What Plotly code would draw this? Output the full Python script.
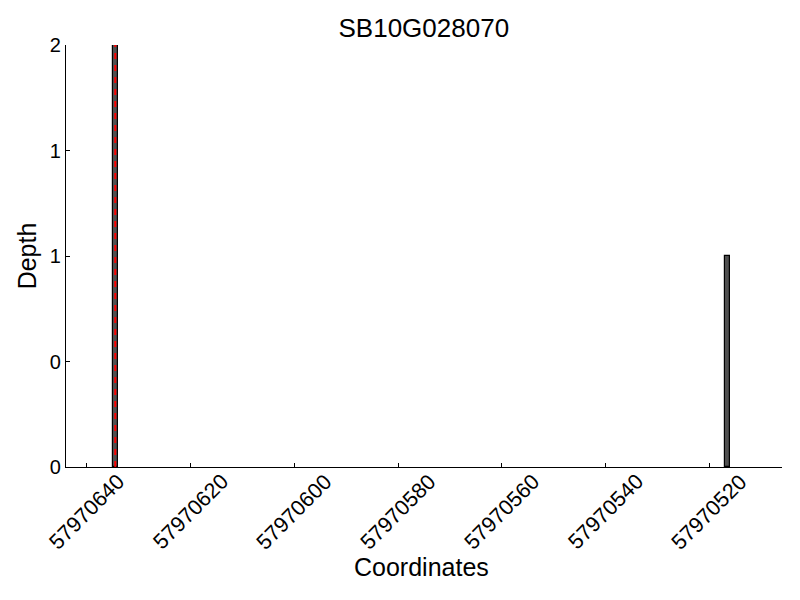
import plotly.graph_objects as go

title = "SB10G028070"
positions = [57970634, 57970516]
depths = [2, 1]
bar_width = 1.0
marker_positions = [57970634]
x_tickvals = [57970640, 57970620, 57970600, 57970580, 57970560, 57970540, 57970520]
x_ticktext = ["57970640", "57970620", "57970600", "57970580", "57970560", "57970540", "57970520"]
y_tickvals = [0, 0.5, 1, 1.5, 2]
y_ticktext = ["0", "0", "1", "1", "2"]
x_range = [57970644, 57970506]
y_range = [0, 2]

FONT = "Liberation Sans, Arial, sans-serif"

fig = go.Figure()
fig.add_trace(go.Bar(
    x=positions, y=depths, width=[bar_width] * len(positions), offset=0,
    marker=dict(color="#505050", line=dict(color="black", width=1.2)),
    showlegend=False,
))

for m in marker_positions:
    fig.add_shape(type="line", xref="x", yref="y",
                  x0=m + bar_width / 2, x1=m + bar_width / 2, y0=0, y1=depths[0],
                  line=dict(color="#ff0000", width=2, dash="6px,6px"))

annotations = []
for v, t in zip(x_tickvals, x_ticktext):
    annotations.append(dict(x=v, y=-0.106, xref="x", yref="paper", text=t,
                            showarrow=False, textangle=-45, xanchor="center", yanchor="middle",
                            font=dict(family=FONT, size=21.5, color="black")))
annotations.append(dict(x=0.496, y=-0.237, xref="paper", yref="paper", text="Coordinates",
                        showarrow=False, xanchor="center", yanchor="middle",
                        font=dict(family=FONT, size=25, color="black")))
annotations.append(dict(x=-0.054, y=0.5, xref="paper", yref="paper", text="Depth",
                        showarrow=False, textangle=-90, xanchor="center", yanchor="middle",
                        font=dict(family=FONT, size=25, color="black")))

fig.update_layout(
    width=792, height=592,
    margin=dict(l=58, r=18, t=37, b=133),
    paper_bgcolor="white", plot_bgcolor="white",
    title=dict(text=title, x=0.525, xanchor="center", y=1 - 20 / 592, yanchor="middle",
               yref="container", font=dict(family=FONT, size=26, color="black")),
    font=dict(family=FONT, size=20, color="black"),
    annotations=annotations,
    bargap=0,
)
fig.update_xaxes(range=x_range, tickvals=x_tickvals, showticklabels=False,
                 ticks="inside", ticklen=4, tickwidth=1, tickcolor="black",
                 showline=True, linecolor="black", linewidth=1.3,
                 showgrid=False, zeroline=False, automargin=False)
fig.update_yaxes(range=y_range, tickvals=y_tickvals, ticktext=y_ticktext,
                 ticks="inside", ticklen=4, tickwidth=1, tickcolor="black",
                 showline=True, linecolor="black", linewidth=1.3,
                 showgrid=False, zeroline=False, automargin=False,
                 tickfont=dict(family=FONT, size=20, color="black"))

fig.write_html("out.html")
